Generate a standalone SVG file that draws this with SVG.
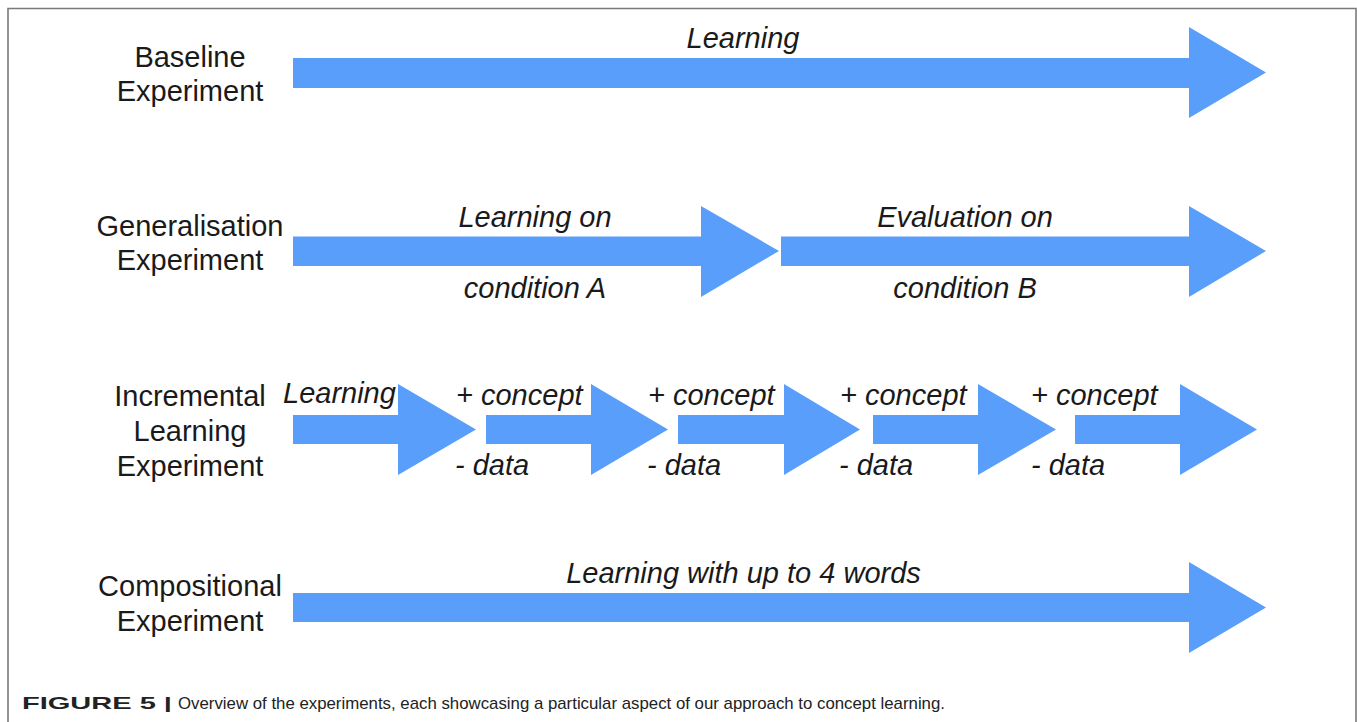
<svg xmlns="http://www.w3.org/2000/svg" width="1357" height="722" viewBox="0 0 1357 722">
<style>
.bg{fill:#ffffff}
.frame{fill:none;stroke:#7a7a7a;stroke-width:1.6}
.arr{fill:#5a9efc}
.lbl{font-family:"Liberation Sans",Arial,Helvetica,sans-serif;font-size:29px;fill:#1a1a1a;text-anchor:middle}
.it{font-family:"Liberation Sans",Arial,Helvetica,sans-serif;font-size:29px;font-style:italic;fill:#1a1a1a}
.mid{text-anchor:middle}
.cap{font-family:"Liberation Sans",Arial,Helvetica,sans-serif;font-size:17px;fill:#222}
</style>
<rect class="bg" x="0" y="0" width="1357" height="722"/>
<path class="frame" d="M8,722 V8.5 H1356 V722"/>

<g id="row-baseline">
  <g id="label-baseline">
    <text class="lbl" x="190" y="67">Baseline</text>
    <text class="lbl" x="190" y="101">Experiment</text>
  </g>
  <g id="arrow-baseline">
    <polygon class="arr" points="293,58 1189,58 1189,27 1266,72.5 1189,118 1189,88 293,88"/>
    <text class="it mid" x="743" y="48">Learning</text>
  </g>
</g>

<g id="row-generalisation">
  <g id="label-generalisation">
    <text class="lbl" x="190" y="236">Generalisation</text>
    <text class="lbl" x="190" y="270">Experiment</text>
  </g>
  <g id="arrow-gen-a">
    <polygon class="arr" points="293,236.5 701,236.5 701,206 779,251 701,297 701,266 293,266"/>
    <text class="it mid" x="535" y="227">Learning on</text>
    <text class="it mid" x="535" y="298">condition A</text>
  </g>
  <g id="arrow-gen-b">
    <polygon class="arr" points="781,236.5 1189,236.5 1189,206 1266,251 1189,297 1189,266 781,266"/>
    <text class="it mid" x="965" y="227">Evaluation on</text>
    <text class="it mid" x="965" y="298">condition B</text>
  </g>
</g>

<g id="row-incremental">
  <g id="label-incremental">
    <text class="lbl" x="190" y="406">Incremental</text>
    <text class="lbl" x="190" y="441">Learning</text>
    <text class="lbl" x="190" y="476">Experiment</text>
  </g>
  <g id="arrow-inc-1">
    <polygon class="arr" points="293,415 398,415 398,384 476,429.5 398,475 398,444 293,444"/>
    <text class="it" x="283" y="403">Learning</text>
  </g>
  <g id="arrow-inc-2">
    <polygon class="arr" points="486,415 591,415 591,384 668,429.5 591,475 591,444 486,444"/>
    <text class="it" x="456" y="405">+ concept</text>
    <text class="it" x="455" y="475">- data</text>
  </g>
  <g id="arrow-inc-3">
    <polygon class="arr" points="678,415 784,415 784,384 860,429.5 784,475 784,444 678,444"/>
    <text class="it" x="648" y="405">+ concept</text>
    <text class="it" x="647" y="475">- data</text>
  </g>
  <g id="arrow-inc-4">
    <polygon class="arr" points="873,415 978,415 978,384 1056,429.5 978,475 978,444 873,444"/>
    <text class="it" x="840" y="405">+ concept</text>
    <text class="it" x="839" y="475">- data</text>
  </g>
  <g id="arrow-inc-5">
    <polygon class="arr" points="1075,415 1180,415 1180,384 1257,429.5 1180,475 1180,444 1075,444"/>
    <text class="it" x="1031" y="405">+ concept</text>
    <text class="it" x="1031" y="475">- data</text>
  </g>
</g>

<g id="row-compositional">
  <g id="label-compositional">
    <text class="lbl" x="190" y="596">Compositional</text>
    <text class="lbl" x="190" y="631">Experiment</text>
  </g>
  <g id="arrow-compositional">
    <polygon class="arr" points="293,593 1189,593 1189,562 1266,607.5 1189,653 1189,622 293,622"/>
    <text class="it mid" x="743.5" y="583">Learning with up to 4 words</text>
  </g>
</g>

<g id="caption">
  <text class="cap" x="22" y="709" font-weight="bold" textLength="150" lengthAdjust="spacingAndGlyphs">FIGURE 5 |</text>
  <text class="cap" x="178" y="709" textLength="767" lengthAdjust="spacingAndGlyphs">Overview of the experiments, each showcasing a particular aspect of our approach to concept learning.</text>
</g>
</svg>
